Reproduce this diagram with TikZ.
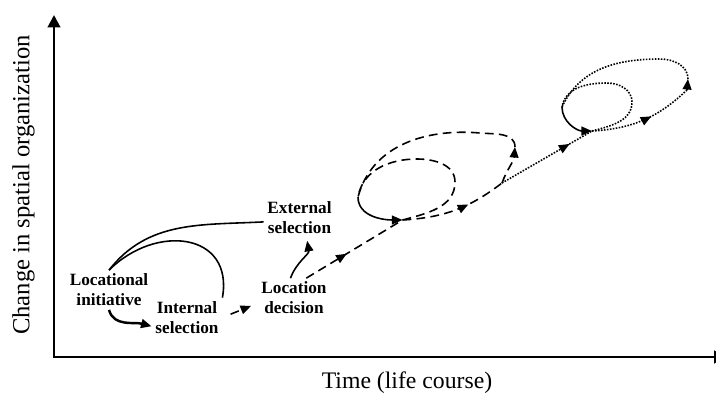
\documentclass[tikz,border=0pt]{standalone}
\usepackage{fontspec}
\setmainfont{Liberation Serif}
\usetikzlibrary{arrows.meta,decorations.markings}

\begin{document}
\begin{tikzpicture}[
    stage/.style={align=center, inner sep=2pt, font=\fontsize{9.8}{11.3}\selectfont\bfseries},
    axislabel/.style={font=\fontsize{13.5}{16}\selectfont},
    axisline/.style={line width=1.6pt, {Triangle[length=7pt,width=7pt]}-{Triangle[length=7pt,width=7pt]}},
    path/.style={line width=0.9pt},
    dashpath/.style={path, dash pattern=on 5pt off 3pt},
    dotpath/.style={path, dash pattern=on 0.9pt off 0.8pt},
    tip/.style={-{Triangle[length=6pt,width=5pt]}},
    midtip/.style={postaction={decorate}, decoration={markings,
        mark=at position #1 with {\arrow{Triangle[length=6pt,width=5pt]}}}}
  ]

      \clip (0,0) rectangle (14.32,7.88) ;

      \node [stage] (init) at (2.18,2.08) {Locational\\initiative} ;
      \node [stage] (intsel) at (3.74,1.53) {Internal\\selection} ;
      \node [stage] (locdec) at (5.88,1.92) {Location\\decision} ;
      \node [stage] (extsel) at (5.99,3.53) {External\\selection} ;
      \node [axislabel, font=\fontsize{14}{16}\selectfont, rotate=90] (ylabel) at (0.47,4.18) {Change in spatial organization} ;
      \node [axislabel] (xlabel) at (8.14,0.23) {Time (life course)} ;

      \coordinate (origin) at (1.08,0.74) ;
      \coordinate (ytop) at (1.08,7.58) ;
      \coordinate (xend) at (14.53,0.74) ;

      \coordinate (L1) at (7.16,3.94) ;
      \coordinate (P1) at (8.05,3.48) ;
      \coordinate (E1) at (10.04,4.22) ;
      \coordinate (R1) at (10.3,4.94) ;
      \coordinate (T1) at (9.6,5.22) ;
      \coordinate (IR1) at (9.1,4.24) ;
      \coordinate (IT1) at (8.34,4.7) ;

      \coordinate (L2) at (11.24,5.74) ;
      \coordinate (P2) at (11.84,5.26) ;
      \coordinate (E2) at (13.74,6.08) ;
      \coordinate (R2) at (13.76,6.3) ;
      \coordinate (T2) at (13.2,6.7) ;
      \coordinate (IR2) at (12.64,5.84) ;
      \coordinate (IT2) at (12.14,6.22) ;

      \draw [axisline] (ytop) -- (origin) -- (xend) ;

      \draw [path] (init.north) to [out=52, in=183] ([yshift=-2.5pt]extsel.west) ;
      \draw [path] (init.north) to [out=45, in=80, looseness=1.45] (intsel.north east) ;
      \draw [path, line width=1.4pt, tip] (init.south) to [out=-75, in=165] ([yshift=-5pt]intsel.west) ;
      \draw [dashpath, tip, shorten <=5pt, shorten >=4pt] (intsel.east) -- ([yshift=-3pt]locdec.west) ;
      \draw [path, tip, shorten >=2pt] ([xshift=-2pt]locdec.north) to [out=70, in=-80] ([xshift=4pt]extsel.south) ;

      \draw [dashpath, midtip=0.42] ([xshift=7pt]locdec.north) -- (P1) ;
      \draw [path, tip] (L1) to [out=-90, in=180] (P1) ;
      \draw [dashpath] (P1) to [out=15, in=-90] (IR1) to [out=90, in=0] (IT1) to [out=180, in=80] (L1) ;
      \draw [dashpath, midtip=0.63] (P1) to [bend right=17] (E1) ;
      \draw [dashpath, tip] (E1) to [out=70, in=-95] (R1) ;
      \draw [dashpath] (R1) to [out=90, in=-5] (T1) to [out=175, in=75] (L1) ;

      \draw [dotpath, midtip=0.75] (E1) -- (P2) ;
      \draw [path, tip] (L2) to [out=-90, in=180] (P2) ;
      \draw [dotpath] (P2) to [out=15, in=-90] (IR2) to [out=90, in=0] (IT2) to [out=180, in=80] (L2) ;
      \draw [dotpath, midtip=0.58] (P2) to [bend right=20] (E2) ;
      \draw [dotpath, tip] (E2) -- (R2) ;
      \draw [dotpath] (R2) to [out=90, in=0] (T2) to [out=180, in=65] (L2) ;
    \end{tikzpicture}
\end{document}
